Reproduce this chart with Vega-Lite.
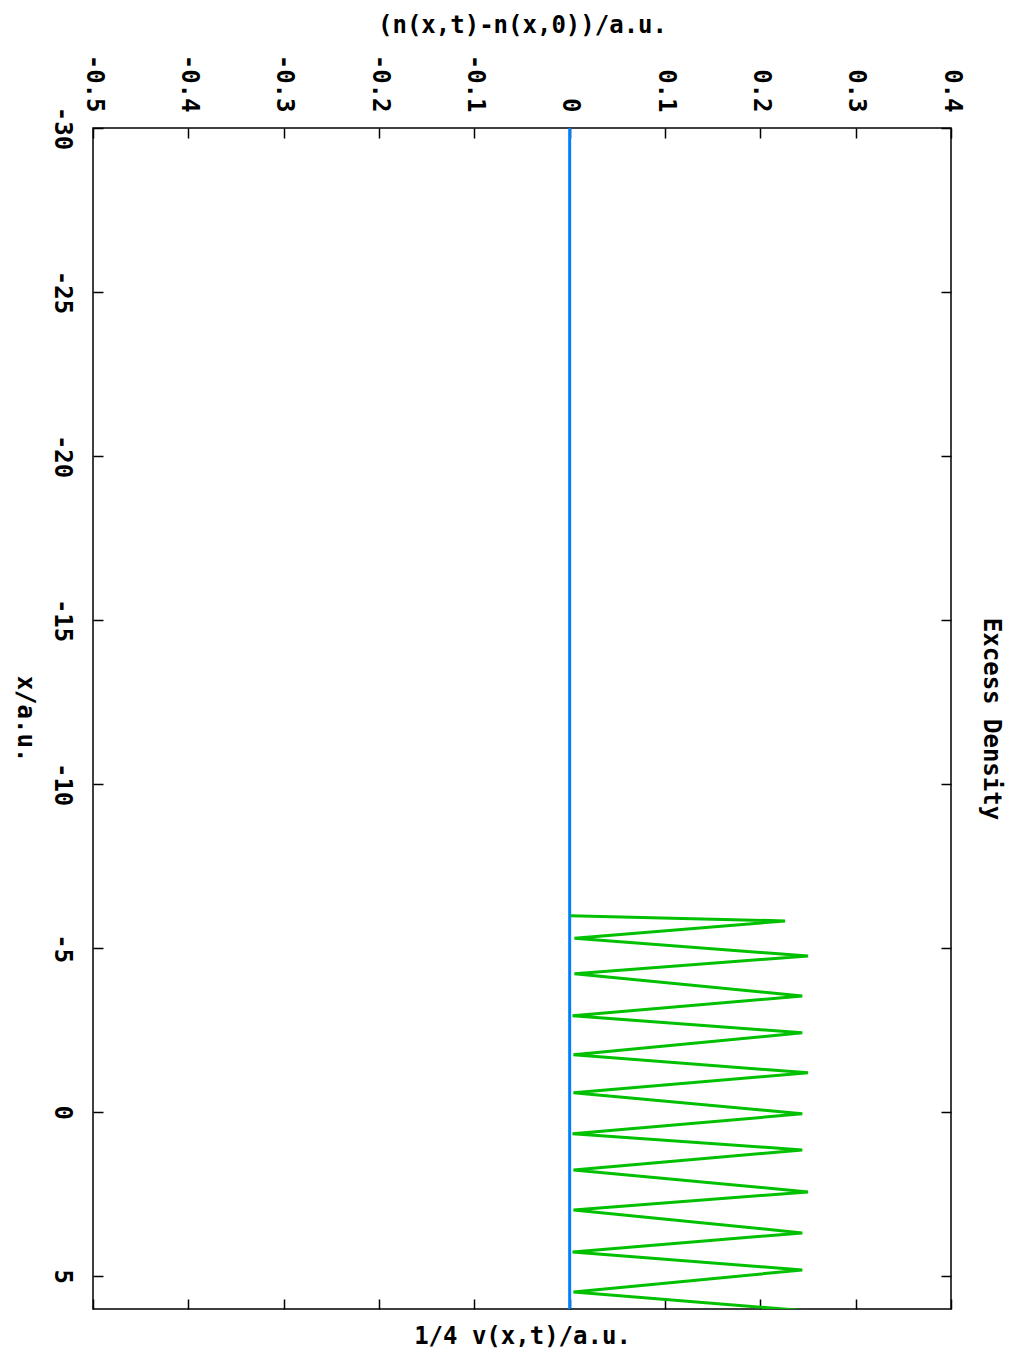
{
  "$schema": "https://vega.github.io/schema/vega-lite/v6.json",
  "width": 858,
  "height": 1181,
  "autosize": {"type": "none"},
  "padding": {"left": 93, "top": 128, "right": 62, "bottom": 43},
  "background": "white",
  "config": {
    "view": {"stroke": "#000", "strokeWidth": 1.5},
    "axis": {
      "grid": false,
      "domain": false,
      "labelFont": "DejaVu Sans Mono",
      "labelFontWeight": "bold",
      "labelFontSize": 24,
      "labelColor": "#000",
      "titleFont": "DejaVu Sans Mono",
      "titleFontWeight": "bold",
      "titleFontSize": 24,
      "titleColor": "#000",
      "tickColor": "#000",
      "tickWidth": 1.5,
      "tickSize": -10
    }
  },
  "layer": [
    {
      "data": {"values": [{"x": -30, "v": 0}, {"x": 6, "v": 0}]},
      "mark": {"type": "line", "color": "#0080ff", "strokeWidth": 3, "clip": true},
      "encoding": {
        "x": {
          "field": "v", "type": "quantitative",
          "scale": {"domain": [-0.5, 0.4], "nice": false, "zero": false},
          "axis": {"orient": "bottom", "title": "1/4 v(x,t)/a.u.", "labels": false,
                   "values": [-0.5, -0.4, -0.3, -0.2, -0.1, 0, 0.1, 0.2, 0.3, 0.4],
                   "titlePadding": 15}
        },
        "y": {
          "field": "x", "type": "quantitative",
          "scale": {"domain": [-30, 6], "nice": false, "zero": false, "reverse": true},
          "axis": {"orient": "right", "title": "Excess Density", "labels": false,
                   "values": [-30, -25, -20, -15, -10, -5, 0, 5],
                   "titleAngle": 90, "titlePadding": 27}
        },
        "order": {"field": "x", "type": "quantitative"}
      }
    },
    {
      "data": {"values": [
        {"x": -5.99, "n": 0.001},
        {"x": -5.83, "n": 0.226},
        {"x": -5.30, "n": 0.005},
        {"x": -4.76, "n": 0.250},
        {"x": -4.22, "n": 0.005},
        {"x": -3.54, "n": 0.244},
        {"x": -2.94, "n": 0.003},
        {"x": -2.42, "n": 0.244},
        {"x": -1.75, "n": 0.004},
        {"x": -1.20, "n": 0.250},
        {"x": -0.59, "n": 0.004},
        {"x": 0.05, "n": 0.244},
        {"x": 0.66, "n": 0.003},
        {"x": 1.15, "n": 0.244},
        {"x": 1.76, "n": 0.004},
        {"x": 2.43, "n": 0.250},
        {"x": 2.98, "n": 0.004},
        {"x": 3.68, "n": 0.244},
        {"x": 4.26, "n": 0.003},
        {"x": 4.81, "n": 0.244},
        {"x": 5.48, "n": 0.004},
        {"x": 6.06, "n": 0.250}
      ]},
      "mark": {"type": "line", "color": "#00c000", "strokeWidth": 3, "clip": true},
      "encoding": {
        "x": {
          "field": "n", "type": "quantitative",
          "scale": {"domain": [-0.5, 0.4], "nice": false, "zero": false},
          "axis": {"orient": "top", "title": "(n(x,t)-n(x,0))/a.u.",
                   "values": [-0.5, -0.4, -0.3, -0.2, -0.1, 0, 0.1, 0.2, 0.3, 0.4],
                   "labelExpr": "toString(round(datum.value*10)/10)",
                   "labelAngle": 90, "labelPadding": 26, "titlePadding": 17}
        },
        "y": {
          "field": "x", "type": "quantitative",
          "scale": {"domain": [-30, 6], "nice": false, "zero": false, "reverse": true},
          "axis": {"orient": "left", "title": "x/a.u.",
                   "values": [-30, -25, -20, -15, -10, -5, 0, 5],
                   "labelExpr": "toString(datum.value)",
                   "labelAngle": 90, "labelPadding": 30,
                   "titleAngle": 90, "titlePadding": 37}
        },
        "order": {"field": "x", "type": "quantitative"}
      }
    }
  ],
  "resolve": {"axis": {"x": "independent", "y": "independent"}}
}
